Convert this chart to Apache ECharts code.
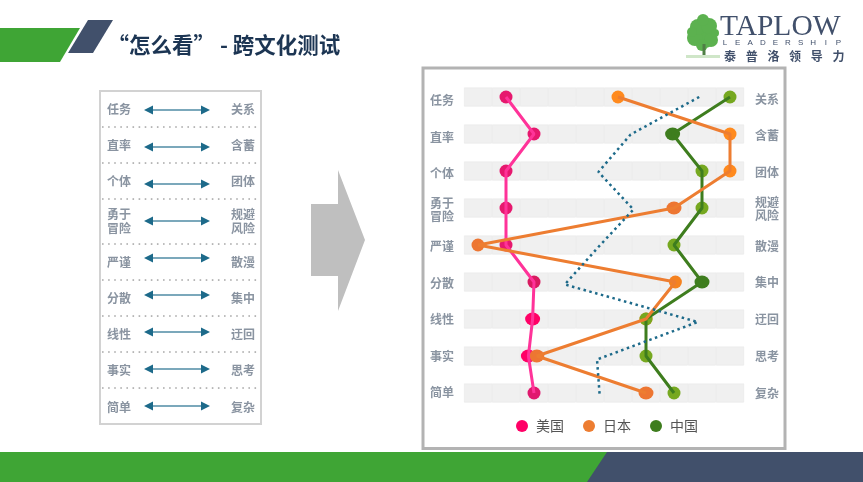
<!DOCTYPE html>
<html><head><meta charset="utf-8">
<style>html,body{margin:0;padding:0;background:#fff}#c{width:863px;height:482px}</style>
<script src="https://cdn.jsdelivr.net/npm/echarts@6/dist/echarts.min.js"></script>
</head><body><div id="c"></div>
<script>
const leftLabels=['任务','直率','个体','勇于\n冒险','严谨','分散','线性','事实','简单'];
const rightLabels=['关系','含蓄','团体','规避\n风险','散漫','集中','迂回','思考','复杂'];
const usa=[1.5,2.5,1.5,1.5,1.5,2.5,2.45,2.3,2.5];
const japan=[5.5,9.5,9.5,7.5,0.5,7.55,6.5,2.6,6.5];
const china=[9.5,7.45,8.5,8.5,7.5,8.5,6.5,6.5,7.5];
const reference=[8.4,5.95,4.8,6.05,4.8,3.6,8.35,4.75,4.85];
const usaDots=['#e6186e','#e6186e','#e6186e','#e6186e','#e6186e','#d81b60','#ff0066','#ff0066','#e0186e'];
const japanDots=['#ff8a1e','#ff8a1e','#ff8a1e','#ed7632','#ed7632','#f58220','#f58220','#ed7632','#ed7632'];
const chinaDots=['#76a820','#3e7d1e','#76a820','#76a820','#76a820','#3e7d1e','#76a820','#76a820','#76a820'];
const usaWide=[0,0,0,0,0,0,1,1,0];
const japanWide=[0,0,0,1,0,0,0,1,1];
const chinaWide=[0,1,0,0,0,1,0,0,0];
const bandCells=[1,1,1,1,1,1,1,1,1,1];
const title='“怎么看” - 跨文化测试';
const tableLineY=[127,163,199,244,280,316,352,388];
const tableRowY=[110,147,184,221,258,295,332,369,406];
const tableTextY=[109,145,181,221,262,298,334,370,407];

const NAVY='#41506b',GREEN='#3fa535',TXT='#8a94a1',ARROW='#1d6a8a';
const g=[];
const poly=(pts,fill,z)=>g.push({type:'polygon',shape:{points:pts},style:{fill},z:z||0});
poly([[0,28],[80,28],[60,62],[0,62]],GREEN);
poly([[88,20],[113,20],[93,53],[68,53]],NAVY);
g.push({type:'text',x:107.5,y:45,style:{text:title,font:'bold 21.5px "Noto Sans CJK SC"',fill:'#1c3553',verticalAlign:'middle'}});
g.push({type:'rect',shape:{x:0,y:452,width:610,height:30},style:{fill:GREEN}});
poly([[587,482],[607,452],[863,452],[863,482]],NAVY,1);
// logo
[[704,36,12],[695,38,8],[711,40,7],[698,27,8],[709,26,8],[703,20,6],[692,32,5],[715,33,4],[702,45,6]].forEach(c=>
 g.push({type:'circle',shape:{cx:c[0],cy:c[1],r:c[2]},style:{fill:'#5cb14f'}}));
g.push({type:'rect',shape:{x:702.5,y:44,width:3,height:12},style:{fill:'#4f7f45'}});
g.push({type:'rect',shape:{x:686,y:55,width:34,height:3},style:{fill:'#cfe6c8'}});
g.push({type:'text',x:720,y:27,style:{text:'TAPLOW',font:'29.5px "Liberation Serif"',fill:NAVY,verticalAlign:'middle'}});
'LEADERSHIP'.split('').forEach((ch,i)=>g.push({type:'text',x:725+i*12.6,y:43,style:{text:ch,font:'8px "Liberation Sans"',fill:NAVY,align:'center',verticalAlign:'middle'}}));
'泰普洛领导力'.split('').forEach((ch,i)=>g.push({type:'text',x:730+i*21.7,y:56,style:{text:ch,font:'bold 12px "Noto Sans CJK SC"',fill:NAVY,align:'center',verticalAlign:'middle'}}));
// table
g.push({type:'rect',shape:{x:100,y:91,width:161,height:333},style:{fill:'#fff',stroke:'#d2d2d2',lineWidth:2}});
tableLineY.forEach(y=>{for(let x=102;x<258;x+=6.1)g.push({type:'rect',shape:{x,y:y-0.75,width:1.6,height:1.6},style:{fill:'#a8a8a8'}});});
tableRowY.forEach((y,i)=>{
  g.push({type:'line',shape:{x1:150,y1:y,x2:205,y2:y},style:{stroke:'#4f8ba5',lineWidth:1.5}});
  poly([[144,y],[153,y-4.5],[153,y+4.5]],ARROW,1);
  poly([[210,y],[201,y-4.5],[201,y+4.5]],ARROW,1);
  const f='bold 12px "Noto Sans CJK SC"';
  g.push({type:'text',x:107,y:tableTextY[i],style:{text:leftLabels[i],font:f,fill:TXT,verticalAlign:'middle',lineHeight:14}});
  g.push({type:'text',x:255,y:tableTextY[i],style:{text:rightLabels[i],font:f,fill:TXT,align:'right',verticalAlign:'middle',lineHeight:14}});
});
// big arrow
poly([[311,204],[338,204],[338,170],[365,240],[338,311],[338,276],[311,276]],'#bfbfbf');
// frame
g.push({type:'rect',shape:{x:423,y:68,width:362,height:380.5},style:{fill:'none',stroke:'#b3b3b3',lineWidth:3},z:-1});

const dotSeries=(name,vals,cols,wide,legendColor)=>({name,type:'scatter',xAxisIndex:0,yAxisIndex:0,z:3,symbol:'circle',
  data:vals.map((v,i)=>({value:[v,i],symbolSize:wide[i]?[15,13]:13,itemStyle:{color:cols[i],opacity:1}})),
  itemStyle:{color:legendColor,opacity:1}});
const pts=vals=>vals.map((v,i)=>[v,i]);
const lineSeries=(name,vals,color)=>({name,type:'line',xAxisIndex:0,yAxisIndex:0,data:pts(vals),showSymbol:false,symbol:'none',
  lineStyle:{color,width:3},itemStyle:{color},z:4,silent:true});
const bands=bandCells.map(()=>({type:'bar',stack:'band',barWidth:19,xAxisIndex:0,yAxisIndex:0,data:leftLabels.map(()=>1),silent:true,z:1,
  itemStyle:{color:'#f0f0f0',borderColor:'#e7e7e7',borderWidth:0.6}}));
const hiddenX=i=>({type:'value',min:0,max:10,interval:1,show:false,gridIndex:i});
const labelAxis=(i,pos,labels,margin)=>({type:'category',inverse:true,gridIndex:i,position:pos,data:labels,axisLine:{show:false},axisTick:{show:false},
  axisLabel:{color:TXT,fontSize:12,fontWeight:'bold',margin,lineHeight:13}});

const chart=echarts.init(document.getElementById('c'));
chart.setOption({
  animation:false,
  textStyle:{fontFamily:'"Noto Sans CJK SC"'},
  graphic:{elements:g},
  grid:[
    {left:464,top:78.5,width:280,height:333},
    {left:464,top:82.5,width:280,height:328.5},
    {left:464,top:80.6,width:280,height:330.75},
    {left:464,top:78.25,width:280,height:337.5}
  ],
  xAxis:[hiddenX(0),hiddenX(1),hiddenX(2),hiddenX(3)],
  yAxis:[
    {type:'category',inverse:true,gridIndex:0,data:leftLabels,show:false},
    labelAxis(1,'left',leftLabels,10),
    labelAxis(2,'right',rightLabels,11),
    {type:'category',inverse:true,gridIndex:3,data:leftLabels,show:false}
  ],
  legend:{data:['美国','日本','中国'],left:511,top:414,itemWidth:18,itemHeight:12,itemGap:19,icon:'circle',
    textStyle:{color:'#555',fontSize:14,fontFamily:'"Noto Sans CJK SC"'}},
  color:['#ff0066','#ed7d31','#3e7d1e'],
  series:[...bands,
    dotSeries('美国',usa,usaDots,usaWide,'#ff0066'),dotSeries('日本',japan,japanDots,japanWide,'#ed7d31'),dotSeries('中国',china,chinaDots,chinaWide,'#3e7d1e'),
    lineSeries('美国',usa,'#ff3399'),lineSeries('中国',china,'#3e7d1e'),lineSeries('日本',japan,'#ed7d31'),
    {name:'基准',type:'line',xAxisIndex:3,yAxisIndex:3,data:pts(reference),showSymbol:false,symbol:'none',z:5,silent:true,
     lineStyle:{color:'#1d6a8a',width:2.5,type:[2.5,3.5]}}
  ]
});
</script></body></html>
